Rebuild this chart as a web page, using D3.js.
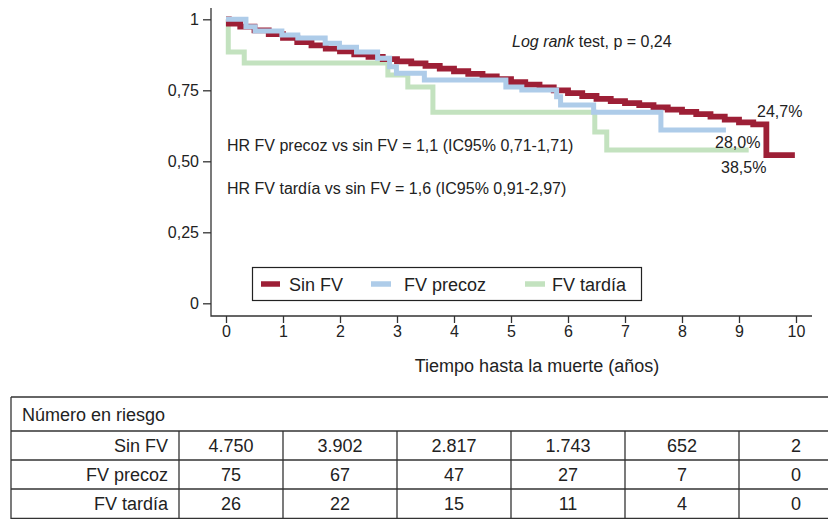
<!DOCTYPE html>
<html>
<head>
<meta charset="utf-8">
<script src="https://cdn.jsdelivr.net/npm/d3@7"></script>
<style>
  html, body { margin: 0; padding: 0; background: #fff; }
  svg { display: block; font-family: "Liberation Sans", Arial, Helvetica, sans-serif; }
</style>
</head>
<body>
<svg id="chart" width="828" height="519"></svg>
<script>
// ---------- DATA ----------
const seriesNames = ["Sin FV", "FV precoz", "FV tardía"];

// Sin FV: step start times (years) and survival
const sinTimes = [0, 0.05, 0.25, 0.5, 0.75, 1.0, 1.25, 1.5, 1.75, 2.0, 2.25, 2.5, 2.75, 3.0, 3.25, 3.5, 3.75, 4.0, 4.25, 4.5, 4.75, 5.0, 5.25, 5.5, 5.75, 6.0, 6.25, 6.5, 6.75, 7.0, 7.25, 7.5, 7.75, 8.0, 8.25, 8.5, 8.75, 9.0, 9.25, 9.48, 9.98];
const sinSurv  = [1.0, 0.985, 0.974, 0.961, 0.948, 0.935, 0.920, 0.908, 0.897, 0.887, 0.877, 0.868, 0.860, 0.852, 0.845, 0.836, 0.826, 0.817, 0.808, 0.799, 0.789, 0.779, 0.770, 0.760, 0.750, 0.740, 0.730, 0.720, 0.712, 0.705, 0.698, 0.690, 0.682, 0.674, 0.666, 0.657, 0.647, 0.637, 0.630, 0.522, 0.522];

// FV precoz
const precozTimes = [0, 0.35, 0.51, 0.98, 1.26, 1.74, 1.99, 2.29, 2.66, 2.87, 2.99, 3.48, 4.91, 5.19, 5.80, 5.87, 6.45, 7.63, 8.77];
const precozSurv  = [1.0, 0.974, 0.959, 0.945, 0.934, 0.916, 0.902, 0.885, 0.863, 0.833, 0.810, 0.786, 0.762, 0.751, 0.727, 0.698, 0.673, 0.610, 0.610];

// FV tardía
const tardiaTimes = [0, 0.04, 0.32, 2.84, 3.19, 3.63, 6.47, 6.68, 9.17];
const tardiaSurv  = [1.0, 0.885, 0.846, 0.804, 0.762, 0.673, 0.603, 0.540, 0.540];

const endLabels = ["24,7%", "28,0%", "38,5%"];

const yTickValues = [0, 0.25, 0.5, 0.75, 1];
const yTickLabels = ["0", "0,25", "0,50", "0,75", "1"];
const xTickValues = [0, 1, 2, 3, 4, 5, 6, 7, 8, 9, 10];

const hrTexts = [
  "HR FV precoz vs sin FV = 1,1 (IC95% 0,71-1,71)",
  "HR FV tardía vs sin FV = 1,6 (IC95% 0,91-2,97)"
];

// Number at risk table
const riskTitle = "Número en riesgo";
const riskTimes = [0, 2, 4, 6, 8, 10];
const riskSin    = ["4.750", "3.902", "2.817", "1.743", "652", "2"];
const riskPrecoz = ["75", "67", "47", "27", "7", "0"];
const riskTardia = ["26", "22", "15", "11", "4", "0"];

// ---------- STYLE ----------
const colors = ["#9d1f36", "#aecce9", "#c3e2bf"];
const widths = [5.8, 5, 5];
const ink = "#222";
const axisInk = "#333";

// ---------- CHART ----------
const svg = d3.select("#chart");
const x = d3.scaleLinear().domain([0, 10]).range([226, 796]);
const y = d3.scaleLinear().domain([0, 1]).range([303.3, 19.3]);
const axisY0 = 316;   // x-axis baseline
const axisX0 = 211;   // y-axis position

// axes
const yAxis = d3.axisLeft(y).tickValues(yTickValues)
  .tickFormat((d, i) => yTickLabels[i]).tickSize(8).tickPadding(4);
const gy = svg.append("g").attr("transform", `translate(${axisX0},0)`).call(yAxis);
gy.select(".domain").remove();

const xAxis = d3.axisBottom(x).tickValues(xTickValues).tickFormat(d3.format("d"))
  .tickSize(7).tickPadding(3);
const gx = svg.append("g").attr("transform", `translate(0,${axisY0})`).call(xAxis);
gx.select(".domain").remove();

[gx, gy].forEach(g => {
  g.selectAll("line").attr("stroke", axisInk).attr("stroke-width", 1.3);
  g.selectAll("text").attr("fill", ink).style("font-size", "16px")
    .style("font-family", "'Liberation Sans', Arial, sans-serif");
});

svg.append("path")
  .attr("d", `M${axisX0},8 V${axisY0} H812`)
  .attr("fill", "none").attr("stroke", axisInk).attr("stroke-width", 1.3);

svg.append("text").attr("x", 537).attr("y", 372).attr("text-anchor", "middle")
  .attr("fill", ink).style("font-size", "18px").text("Tiempo hasta la muerte (años)");

// curves
const line = d3.line().x(d => x(d[0])).y(d => y(d[1])).curve(d3.curveStepAfter);
const series = [
  d3.zip(sinTimes, sinSurv),
  d3.zip(precozTimes, precozSurv),
  d3.zip(tardiaTimes, tardiaSurv)
];
[2, 0, 1].forEach(i => {
  svg.append("path").datum(series[i]).attr("d", line)
    .attr("fill", "none").attr("stroke", colors[i]).attr("stroke-width", widths[i])
    .attr("stroke-linejoin", "miter").attr("stroke-linecap", "butt");
});

// end labels
const endPos = [[757, 116.5], [715, 147.5], [721, 173]];
endLabels.forEach((t, i) => {
  svg.append("text").attr("x", endPos[i][0]).attr("y", endPos[i][1])
    .attr("fill", ink).style("font-size", "16px").text(t);
});

// annotations
const lr = svg.append("text").attr("x", 512).attr("y", 47).attr("fill", ink).style("font-size", "16px");
lr.append("tspan").style("font-style", "italic").text("Log rank");
lr.append("tspan").text(" test, p = 0,24");

hrTexts.forEach((t, i) => {
  svg.append("text").attr("x", 227).attr("y", 151 + i * 43)
    .attr("fill", ink).style("font-size", "16px").text(t);
});

// legend
svg.append("rect").attr("x", 252.5).attr("y", 267.5).attr("width", 389).attr("height", 33)
  .attr("fill", "#fff").attr("stroke", ink).attr("stroke-width", 1.2);
const legX = [[261, 280, 289], [371, 391, 404], [525, 545, 552]];
seriesNames.forEach((n, i) => {
  svg.append("line").attr("x1", legX[i][0]).attr("x2", legX[i][1])
    .attr("y1", 284).attr("y2", 284).attr("stroke", colors[i]).attr("stroke-width", 5.5);
  svg.append("text").attr("x", legX[i][2]).attr("y", 290.5).attr("fill", ink)
    .style("font-size", "18px").text(n);
});

// ---------- TABLE ----------
const tbl = svg.append("g");
const rowLines = [397, 431, 460, 489, 518.5];
const tableLeft = 11, labelRight = 179;
const seps = riskTimes.slice(0, -1).map((t, i) => (x(t) + x(riskTimes[i + 1])) / 2);
const cellBounds = [labelRight, ...seps, x(10) + (x(10) - seps[seps.length - 1])];
rowLines.forEach(yy => {
  tbl.append("line").attr("x1", tableLeft).attr("x2", 830).attr("y1", yy).attr("y2", yy)
    .attr("stroke", axisInk).attr("stroke-width", 1.3);
});
tbl.append("line").attr("x1", tableLeft).attr("x2", tableLeft).attr("y1", 397).attr("y2", 519)
  .attr("stroke", axisInk).attr("stroke-width", 1.3);
[labelRight, ...seps].forEach(sx => {
  tbl.append("line").attr("x1", sx).attr("x2", sx).attr("y1", 431).attr("y2", 519)
    .attr("stroke", axisInk).attr("stroke-width", 1.3);
});
tbl.append("text").attr("x", 22).attr("y", 420.5).attr("fill", ink)
  .style("font-size", "18px").text(riskTitle);
const rows = [riskSin, riskPrecoz, riskTardia];
const rowMid = [445.5, 474.5, 504];
rows.forEach((vals, r) => {
  tbl.append("text").attr("x", 168).attr("y", rowMid[r] + 6.3).attr("text-anchor", "end")
    .attr("fill", ink).style("font-size", "18px").text(seriesNames[r]);
  vals.forEach((v, c) => {
    const cx = (cellBounds[c] + cellBounds[c + 1]) / 2;
    tbl.append("text").attr("x", cx).attr("y", rowMid[r] + 6.3).attr("text-anchor", "middle")
      .attr("fill", ink).style("font-size", "18px").text(v);
  });
});
</script>
</body>
</html>
